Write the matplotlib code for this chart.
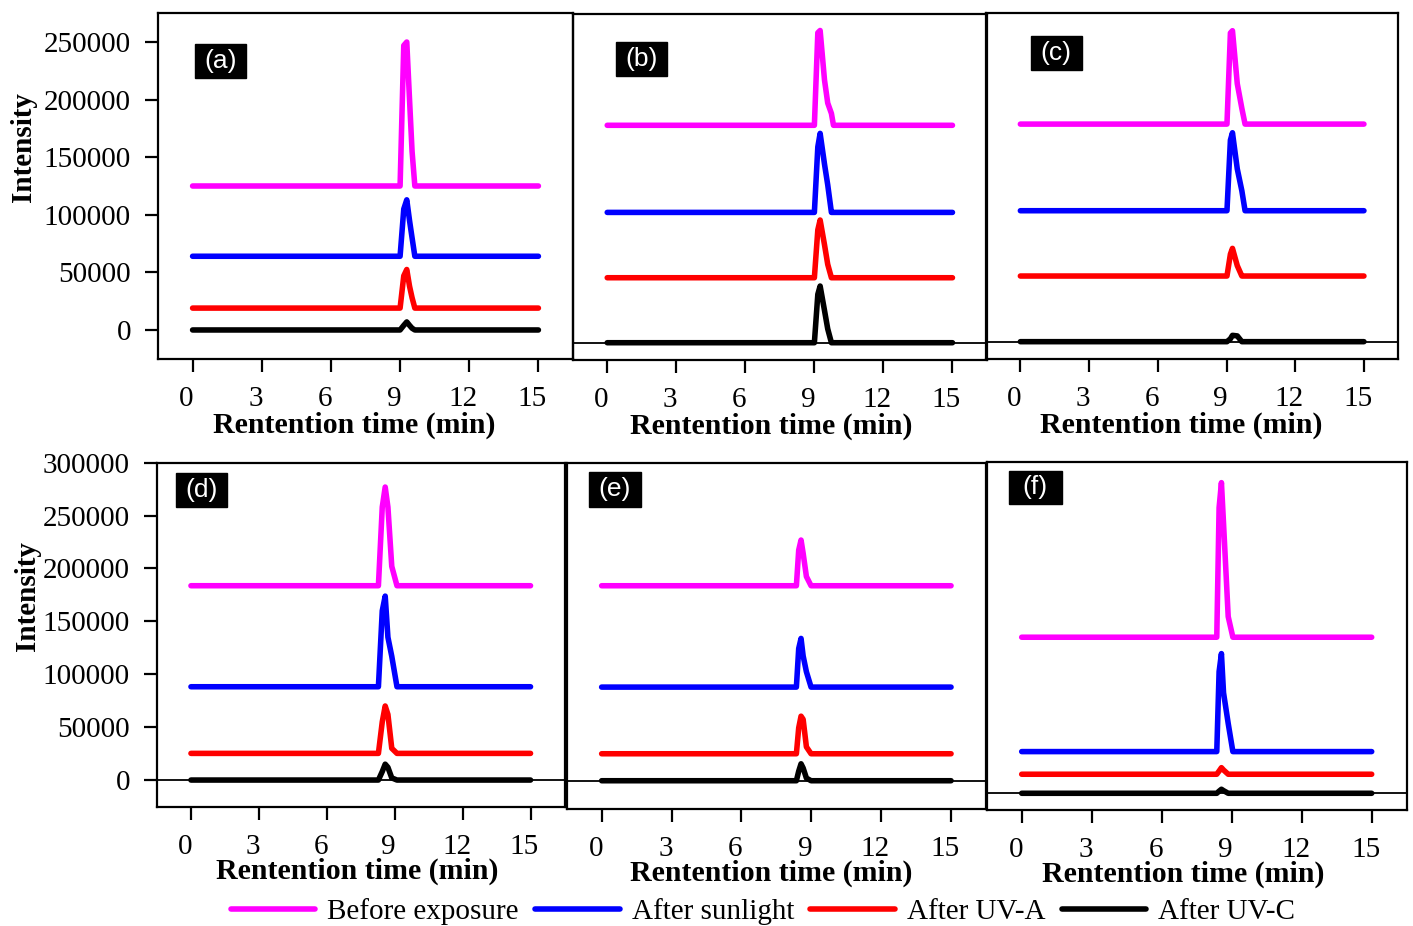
import matplotlib
matplotlib.use("Agg")
import matplotlib.pyplot as plt
from matplotlib.lines import Line2D
from matplotlib.patches import Rectangle
from matplotlib.transforms import ScaledTranslation

W, H = 1413, 926
SERIF = "Liberation Serif"
SANS = "Liberation Sans"

SERIES = ["Before exposure", "After sunlight", "After UV-A", "After UV-C"]
COLORS = ["#ff00ff", "#0000ff", "#ff0000", "#000000"]
X_TICKS = [0, 3, 6, 9, 12, 15]

# retention time grids (min) per panel
T_A = [0, 9.0, 9.16, 9.29, 9.41, 9.52, 9.64, 15]
T_B = [0, 9.0, 9.15, 9.25, 9.44, 9.58, 9.74, 9.83, 15]
T_C = [0, 9.02, 9.17, 9.26, 9.47, 9.67, 9.81, 15]
T_D = [0, 8.28, 8.45, 8.58, 8.7, 8.87, 9.1, 15]
T_E = [0, 8.36, 8.46, 8.56, 8.65, 8.79, 8.99, 15]
T_F = [0, 8.36, 8.46, 8.56, 8.65, 8.85, 9.05, 15]

# intensities: before exposure, after sunlight, after UV-A, after UV-C
A_BEFORE = [125000, 125000, 247000, 250000, 200000, 155000, 125000, 125000]
A_SUN    = [64000, 64000, 105000, 113000, 95000, 80000, 64000, 64000]
A_UVA    = [19000, 19000, 47000, 52500, 38000, 28000, 19000, 19000]
A_UVC    = [0, 0, 4000, 7000, 4000, 1500, 0, 0]

B_BEFORE = [188700, 188700, 269000, 271000, 228000, 208000, 199000, 188700, 188700]
B_SUN    = [113100, 113100, 170000, 181700, 155000, 137000, 113100, 113100, 113100]
B_UVA    = [56400, 56400, 98000, 106500, 85000, 68000, 56400, 56400, 56400]
B_UVC    = [0, 0, 42000, 49200, 28000, 12000, 0, 0, 0]

C_BEFORE = [188900, 188900, 268000, 270000, 224000, 202500, 188900, 188900]
C_SUN    = [113700, 113700, 175000, 181400, 150000, 131000, 113700, 113700]
C_UVA    = [57000, 57000, 76000, 81000, 66000, 57000, 57000, 57000]
C_UVC    = [0, 0, 2500, 5500, 5000, 0, 0, 0]

D_BEFORE = [183700, 183700, 258000, 277000, 258000, 202000, 183700, 183700]
D_SUN    = [88200, 88200, 160000, 173900, 135000, 117000, 88200, 88200]
D_UVA    = [25200, 25200, 55000, 70000, 62000, 30000, 25200, 25200]
D_UVC    = [0, 0, 8000, 15000, 12000, 2000, 0, 0]

E_BEFORE = [184300, 184300, 218000, 227500, 215000, 193000, 184300, 184300]
E_SUN    = [88500, 88500, 125000, 134500, 118000, 103000, 88500, 88500]
E_UVA    = [25500, 25500, 50000, 61000, 58000, 32000, 25500, 25500]
E_UVC    = [0, 0, 9000, 16000, 12000, 2500, 0, 0]

F_BEFORE = [147500, 147500, 270000, 293600, 255000, 167000, 147500, 147500]
F_SUN    = [39400, 39400, 115000, 132000, 95000, 66000, 39400, 39400]
F_UVA    = [18000, 18000, 21000, 24200, 22000, 18000, 18000, 18000]
F_UVC    = [0, 0, 2000, 3800, 2500, 0, 0, 0]

Y_TICKS_TOP = [0, 50000, 100000, 150000, 200000, 250000]
Y_TICKS_BOT = [0, 50000, 100000, 150000, 200000, 250000, 300000]

PANELS = [
    # label, t, series, box px (l, t, r, b), ylim, y ticks, zero line,
    # tag box px, x-label nudge px (dx, dy)
    ("(a)", T_A, [A_BEFORE, A_SUN, A_UVA, A_UVC], (158, 13, 573, 359),
     (-25200, 275200), Y_TICKS_TOP, False, (195, 44, 246, 78), (-11, 2)),
    ("(b)", T_B, [B_BEFORE, B_SUN, B_UVA, B_UVC], (572.7, 14, 987, 360),
     (-15000, 285300), None, True, (615.7, 41.7, 666.7, 75.7), (-9, 2)),
    ("(c)", T_C, [C_BEFORE, C_SUN, C_UVA, C_UVC], (986, 13.3, 1398.3, 359.3),
     (-15300, 285100), None, True, (1030.7, 36, 1081.7, 70), (-11, 2)),
    ("(d)", T_D, [D_BEFORE, D_SUN, D_UVA, D_UVC], (157, 462.7, 564.5, 806.7),
     (-25200, 300000), Y_TICKS_BOT, True, (176, 473, 227, 507), (-4, 4)),
    ("(e)", T_E, [E_BEFORE, E_SUN, E_UVA, E_UVC], (566.7, 462.7, 986, 809.3),
     (-27000, 300600), None, True, (589, 472, 641, 506.7), (-5, 4)),
    ("(f)", T_F, [F_BEFORE, F_SUN, F_UVA, F_UVC], (986.7, 461.7, 1406.7, 810),
     (-15800, 313400), None, True, (1009, 470.7, 1061.7, 504.3), (-13, 4)),
]


def fig_rect(l, t, r, b):
    return [l / W, 1 - b / H, (r - l) / W, (b - t) / H]


def main():
    fig = plt.figure(figsize=(W / 100, H / 100), dpi=100)
    fig.patch.set_facecolor("white")

    for label, t, series, box, ylim, yticks, zero_line, lbox, nudge in PANELS:
        ax = fig.add_axes(fig_rect(*box))
        ax.set_facecolor("none")
        for vals, col in zip(series, COLORS):
            ax.plot(t, vals, color=col, lw=4.0, solid_capstyle="round",
                    solid_joinstyle="round", zorder=3)
        if zero_line:
            ax.axhline(0, color="black", lw=1.3, zorder=2)
        ax.set_xlim(-1.5, 16.5)
        ax.set_ylim(*ylim)
        ax.set_xticks(X_TICKS)
        ax.set_xticklabels([str(v) for v in X_TICKS], family=SERIF, fontsize=21)
        if yticks is not None:
            ax.set_yticks(yticks)
            ax.set_yticklabels([str(v) for v in yticks], family=SERIF,
                               fontsize=21)
        else:
            ax.set_yticks([])
        ax.tick_params(direction="out", length=9.5, width=1.6, pad=10)
        # x tick labels sit a little left of their ticks in the original
        shift = ScaledTranslation(-6 / 100, 0, fig.dpi_scale_trans)
        for tl in ax.get_xticklabels():
            tl.set_transform(tl.get_transform() + shift)
        for sp in ax.spines.values():
            sp.set_linewidth(1.6)
        ax.set_xlabel("Rentention time (min)", family=SERIF, fontsize=21.5,
                      fontweight="bold", labelpad=1)
        lab = ax.xaxis.label
        lab.set_transform(lab.get_transform() + ScaledTranslation(
            nudge[0] / 100, nudge[1] / 100, fig.dpi_scale_trans))

        # panel tag: white text on a black block
        l, tp, r, b = lbox
        fig.add_artist(Rectangle((l / W, 1 - b / H), (r - l) / W, (b - tp) / H,
                                 transform=fig.transFigure, color="black",
                                 zorder=5))
        fig.text((l + r) / 2 / W, 1 - (tp + b) / 2 / H, label, color="white",
                 family=SANS, fontsize=19, ha="center", va="center", zorder=6)

    fig.text(24 / W, 1 - 147 / H, "Intensity", rotation=90, family=SERIF,
             fontsize=21, fontweight="bold", ha="center", va="center")
    fig.text(27 / W, 1 - 596 / H, "Intensity", rotation=90, family=SERIF,
             fontsize=21, fontweight="bold", ha="center", va="center")

    handles = [Line2D([], [], color=c, lw=4.0, solid_capstyle="round")
               for c in COLORS]
    fig.legend(handles, SERIES, ncol=4, loc="center",
               bbox_to_anchor=(763 / W, 1 - 912 / H), frameon=False,
               prop={"family": SERIF, "size": 21}, handlelength=2.9,
               handletextpad=0.42, columnspacing=0.55, borderpad=0)

    fig.savefig("out.png", dpi=100, facecolor="white")
    plt.close(fig)


if __name__ == "__main__":
    main()
